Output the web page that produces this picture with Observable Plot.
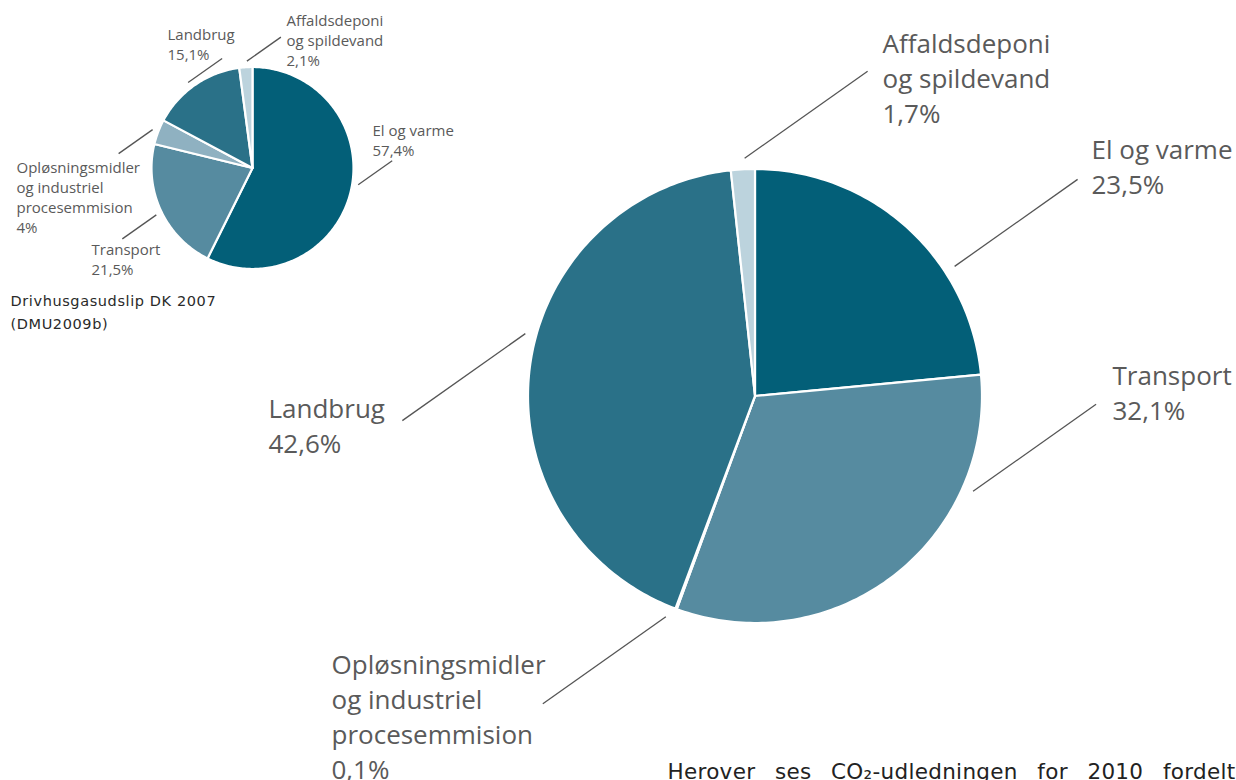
<!DOCTYPE html>
<html><head><meta charset="utf-8">
<script src="https://cdn.jsdelivr.net/npm/d3@7"></script>
<script src="https://cdn.jsdelivr.net/npm/@observablehq/plot@0.6"></script>
<style>
html,body{margin:0;padding:0;background:#fff;}
#chart{width:1236px;height:780px;overflow:hidden;}
g[font-family="DejaVu Sans, sans-serif"] text{letter-spacing:0.6px;}
g[font-family="DejaVu Sans, Verdana"] text{letter-spacing:0.3px;}
</style></head><body><div id="chart"></div>
<script>
// ---- data ----
const categories = ["El og varme", "Transport", "Opløsningsmidler og industriel procesemmision", "Landbrug", "Affaldsdeponi og spildevand"];
const labelNames = ["El og varme", "Transport", "Opløsningsmidler\nog industriel\nprocesemmision", "Landbrug", "Affaldsdeponi\nog spildevand"];
const values2007 = [57.4, 21.5, 4, 15.1, 2.1];
const values2010 = [23.5, 32.1, 0.1, 42.6, 1.7];
const pct2007 = ["57,4%", "21,5%", "4%", "15,1%", "2,1%"];
const pct2010 = ["23,5%", "32,1%", "0,1%", "42,6%", "1,7%"];
const colors = ["#035f78", "#568ba0", "#8fb1c1", "#2a7188", "#bcd3dd"];
const captionLines = ["Drivhusgasudslip DK 2007", "(DMU2009b)"];
const bodyText = "Herover ses CO₂-udledningen for 2010 fordelt";

// ---- layout (positions / styles) ----
const W = 1236, H = 780;
const layout = {
  small: {cx: 252, cy: 167.5, r: 101, fontSize: 15, lineHeight: 1.34, gap: 6, vec: [34, -24],
    labels: [
      {angle: 99, dir: 1, x: 372, base: 135},
      {angle: 244, dir: -1, x: 91, base: 254},
      {angle: 291, dir: -1, x: 16, base: 172.7},
      {angle: 323, dir: 1, x: 167, base: 39},
      {angle: 357, dir: 1, x: 286, base: 25.7}
    ]},
  big: {cx: 754.5, cy: 395.5, r: 227, fontSize: 26, lineHeight: 1.35, gap: 11, vec: [123, -87],
    labels: [
      {angle: 57, dir: 1, x: 1091, base: 158},
      {angle: 113.6, dir: 1, x: 1112, base: 384},
      {angle: 202, dir: -1, x: 331, base: 673},
      {angle: 285.2, dir: -1, x: 268, base: 417},
      {angle: 357.5, dir: 1, x: 882, base: 52}
    ]}
};
const caption = {x: 10, base: 306, fontSize: 14.5, lineHeight: 1.52};
const body = {x: 667, xEnd: 1235, base: 778, fontSize: 21.5};

// Plot's lineAnchor "top" puts the first baseline 0.71 * lineHeight em below y
const topFromBase = (base, fs, lh) => base - 0.71 * lh * fs;

// ---- build geometry from data ----
function slices(values, L, key) {
  const arcs = d3.pie().sort(null).value(d => d)(values);
  const pts = [];
  arcs.forEach((a, i) => {
    const n = Math.max(2, Math.ceil((a.endAngle - a.startAngle) / (Math.PI / 180)));
    const id = key + i;
    pts.push({id, cat: categories[i], x: L.cx, y: L.cy});
    for (let k = 0; k <= n; k++) {
      const t = a.startAngle + (a.endAngle - a.startAngle) * k / n;
      pts.push({id, cat: categories[i], x: L.cx + L.r * Math.sin(t), y: L.cy - L.r * Math.cos(t)});
    }
  });
  return pts;
}
function leaders(L) {
  return L.labels.map(l => {
    const t = l.angle * Math.PI / 180, rr = L.r + L.gap;
    const x1 = L.cx + rr * Math.sin(t), y1 = L.cy - rr * Math.cos(t);
    return {x1, y1, x2: x1 + l.dir * L.vec[0], y2: y1 + l.dir * L.vec[1]};
  });
}
function labels(L, pcts) {
  return L.labels.map((l, i) => ({x: l.x, y: topFromBase(l.base, L.fontSize, L.lineHeight), text: labelNames[i] + "\n" + pcts[i]}));
}

const sliceData = slices(values2007, layout.small, "s").concat(slices(values2010, layout.big, "b"));
const leaderData = leaders(layout.small).concat(leaders(layout.big));

const plot = Plot.plot({
  width: W, height: H, margin: 0,
  x: {domain: [0, W], range: [0, W], axis: null},
  y: {domain: [0, H], range: [0, H], axis: null},
  color: {domain: categories, range: colors},
  marks: [
    Plot.line(sliceData, {x: "x", y: "y", z: "id", fill: "cat", stroke: "white", strokeWidth: 2.2, strokeLinejoin: "round", curve: "linear-closed"}),
    Plot.link(leaderData, {x1: "x1", y1: "y1", x2: "x2", y2: "y2", stroke: "#555", strokeWidth: 1.3}),
    Plot.text(labels(layout.small, pct2007), {x: "x", y: "y", text: "text", textAnchor: "start", lineAnchor: "top",
      fontSize: layout.small.fontSize, lineHeight: layout.small.lineHeight, fill: "#5a5a5a", fontFamily: "Open Sans"}),
    Plot.text(labels(layout.big, pct2010), {x: "x", y: "y", text: "text", textAnchor: "start", lineAnchor: "top",
      fontSize: layout.big.fontSize, lineHeight: layout.big.lineHeight, fill: "#5a5a5a", fontFamily: "Open Sans"}),
    Plot.text([captionLines.join("\n")], {x: caption.x, y: topFromBase(caption.base, caption.fontSize, caption.lineHeight), text: d => d,
      textAnchor: "start", lineAnchor: "top", fontSize: caption.fontSize, lineHeight: caption.lineHeight, fill: "#2a2a2a", fontFamily: "DejaVu Sans, sans-serif"}),
    Plot.text([bodyText], {x: body.x, y: topFromBase(body.base, body.fontSize, 1), text: d => d, textAnchor: "start", lineAnchor: "top",
      fontSize: body.fontSize, fill: "#222", fontFamily: "DejaVu Sans, Verdana"})
  ]
});
document.getElementById("chart").appendChild(plot);

// justify the body text to the right edge using word spacing
d3.select(plot).selectAll('g[font-family="DejaVu Sans, Verdana"] text').each(function() {
  const len = this.getComputedTextLength();
  const spaces = (bodyText.match(/ /g) || []).length;
  const extra = (body.xEnd - body.x - len) / spaces;
  if (extra > 0) this.style.wordSpacing = extra + "px";
});
</script>
</body></html>
